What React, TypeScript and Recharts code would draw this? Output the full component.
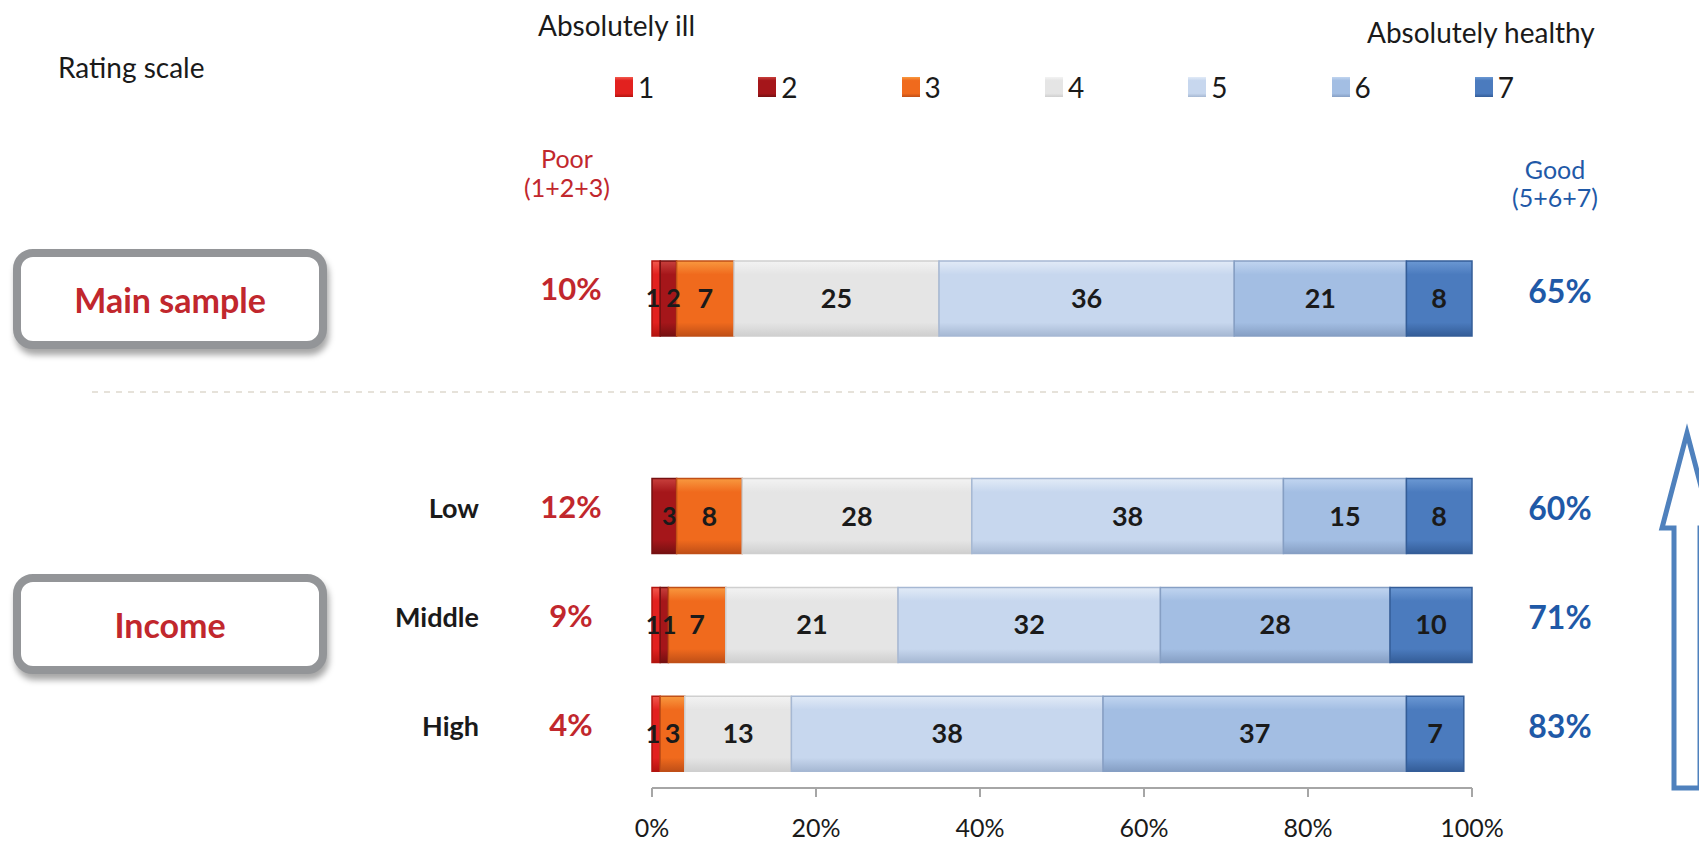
import React from 'react';
import { BarChart, Bar, XAxis, YAxis, Legend, LabelList } from 'recharts';

// rows of the chart: main sample, an empty spacer row, then the three income groups
const rows = ['main', 'gap', 'low', 'middle', 'high'];
const rowLabels = ['', '', 'Low', 'Middle', 'High'];
const boxLabels = ['Main sample', 'Income'];

// share (%) of each rating per row
const r1 = [1, null, 0, 1, 1];
const r2 = [2, null, 3, 1, 0];
const r3 = [7, null, 8, 7, 3];
const r4 = [25, null, 28, 21, 13];
const r5 = [36, null, 38, 32, 38];
const r6 = [21, null, 15, 28, 37];
const r7 = [8, null, 8, 10, 7];

const poorPct = [10, null, 12, 9, 4];
const goodPct = [65, null, 60, 71, 83];

const ratingNames = ['1', '2', '3', '4', '5', '6', '7'];
const xTicks = [0, 20, 40, 60, 80, 100];

// light / base / dark per rating
const palette = [
  ['#f25a4e', '#e2211f', '#b3140f'],
  ['#c8403c', '#a5161a', '#761011'],
  ['#f8993f', '#f06a1d', '#c04f17'],
  ['#f3f3f3', '#e5e5e5', '#cfcfcf'],
  ['#e2ebf7', '#c7d7ee', '#a6b8d3'],
  ['#c1d5f0', '#a3bee3', '#869fc4'],
  ['#6b98d3', '#4b7bbe', '#345d98'],
];

// nudge the labels of the two thin left segments apart a little
const labelShift = [-3, 5, 0, 0, 0, 0, 0];

const series = [r1, r2, r3, r4, r5, r6, r7];

const data = rows.map((key, i) => {
  const row: any = { key, label: rowLabels[i], poor: poorPct[i], good: goodPct[i] };
  series.forEach((s, j) => { row['r' + (j + 1)] = s[i]; });
  return row;
});

const FONT = 'Lato, "Open Sans", sans-serif';
const RED = '#c1272d';
const BLUE = '#1f59a7';

const RowTick = (props: any) => {
  const { y, index } = props;
  const d = data[index];
  if (!d) return null;
  return (
    <g fontFamily={FONT} fontWeight={700}>
      {d.label && (
        <text x={479} y={y} dy={-5} textAnchor="end" dominantBaseline="middle" fontSize={27} fill="#1a1a1a">
          {d.label}
        </text>
      )}
      {d.poor != null && (
        <text x={571} y={y} dy={-6} textAnchor="middle" dominantBaseline="middle" fontSize={31} fill={RED}>
          {d.poor}%
        </text>
      )}
      {d.good != null && (
        <text x={1560} y={y} dy={-4} textAnchor="middle" dominantBaseline="middle" fontSize={32} fill={BLUE}>
          {d.good}%
        </text>
      )}
    </g>
  );
};

const renderLegend = (props: any) => {
  const payload = props.payload || [];
  return (
    <div style={{ position: 'relative', width: 1699, height: 0, fontFamily: FONT }}>
      {payload.map((p: any, i: number) => (
        <div key={i} style={{ position: 'absolute', left: 615 + i * 143.3, top: 0, display: 'flex', alignItems: 'center', fontSize: 28, color: '#1a1a1a' }}>
          <svg width={18} height={20} style={{ marginRight: 5 }}>
            <rect x={0} y={0} width={18} height={20} fill={`url(#grad${i + 1})`} />
          </svg>
          <span style={{ lineHeight: '30px' }}>{p.value}</span>
        </div>
      ))}
    </div>
  );
};

const labelFmt = (v: any) => (v ? v : '');

const Box = ({ top, text }: { top: number; text: string }) => (
  <div style={{
    position: 'absolute', left: 13, top, width: 298, height: 84,
    border: '8px solid #939598', borderRadius: 20, background: '#fff',
    boxShadow: '2px 6px 6px rgba(0,0,0,0.35)',
    display: 'flex', alignItems: 'center', justifyContent: 'center',
    fontFamily: FONT, fontWeight: 700, fontSize: 34, color: RED,
  }}>
    {text}
  </div>
);

export default function App() {
  return (
    <div style={{ position: 'absolute', left: 0, top: 0, width: 1699, height: 841, overflow: 'hidden', background: '#fff', fontFamily: FONT }}>
      <svg width={1699} height={841} style={{ position: 'absolute', left: 0, top: 0 }}>
        <defs>
          {palette.map((c, i) => (
            <linearGradient key={i} id={`grad${i + 1}`} x1="0" y1="0" x2="0" y2="1">
              <stop offset="0%" stopColor={c[0]} />
              <stop offset="18%" stopColor={c[1]} />
              <stop offset="82%" stopColor={c[1]} />
              <stop offset="100%" stopColor={c[2]} />
            </linearGradient>
          ))}
        </defs>
        <line x1={92} y1={392} x2={1699} y2={392} stroke="#e6e2da" strokeWidth={2} strokeDasharray="6 6" />
      </svg>

      <div style={{ position: 'absolute', left: 58, top: 50, fontSize: 28, color: '#1a1a1a' }}>Rating scale</div>
      <div style={{ position: 'absolute', left: 538, top: 8, fontSize: 28, color: '#1a1a1a' }}>Absolutely ill</div>
      <div style={{ position: 'absolute', left: 1367, top: 15, fontSize: 28, color: '#1a1a1a' }}>Absolutely healthy</div>
      <div style={{ position: 'absolute', left: 467, top: 144, width: 200, textAlign: 'center', fontSize: 25, lineHeight: '29px', color: RED }}>
        Poor<br />(1+2+3)
      </div>
      <div style={{ position: 'absolute', left: 1455, top: 155, width: 200, textAlign: 'center', fontSize: 25, lineHeight: '28px', color: BLUE }}>
        Good<br />(5+6+7)
      </div>

      <Box top={249} text={boxLabels[0]} />
      <Box top={574} text={boxLabels[1]} />

      <div style={{ position: 'absolute', left: 0, top: 0 }}>
        <BarChart width={1699} height={841} data={data} layout="vertical"
          margin={{ top: 244, right: 227, bottom: 0, left: 0 }}>
          <XAxis type="number" domain={[0, 100]} ticks={xTicks} tickFormatter={(v) => v + '%'}
            height={53} tickSize={9} tickMargin={22}
            axisLine={{ stroke: '#a6a6a6', strokeWidth: 2 }} tickLine={{ stroke: '#a6a6a6', strokeWidth: 2 }}
            tick={{ fontSize: 25, fill: '#1a1a1a', fontFamily: FONT }} />
          <YAxis type="category" dataKey="key" width={652} axisLine={false} tickLine={false}
            interval={0} tick={<RowTick />} />
          <Legend content={renderLegend}
            wrapperStyle={{ position: 'absolute', top: 72, left: 0, width: 1699, height: 0 }} />
          {ratingNames.map((name, i) => (
            <Bar key={name} dataKey={'r' + (i + 1)} name={name} stackId="s" barSize={75}
              fill={`url(#grad${i + 1})`} stroke={palette[i][2]} strokeWidth={1.5}
              isAnimationActive={false}>
              <LabelList dataKey={'r' + (i + 1)} position="center" formatter={labelFmt} dx={labelShift[i]}
                style={{ fontSize: i < 2 ? 25 : 27, fontWeight: 700, fill: '#1a1a1a', fontFamily: FONT }} />
            </Bar>
          ))}
        </BarChart>
      </div>

      <svg width={1699} height={841} style={{ position: 'absolute', left: 0, top: 0, pointerEvents: 'none' }}>
        <polygon points="1687,433 1712,528 1700,528 1700,788 1674,788 1674,528 1662,528"
          fill="#fff" stroke="#4f81bd" strokeWidth={5} strokeLinejoin="miter" />
      </svg>
    </div>
  );
}
